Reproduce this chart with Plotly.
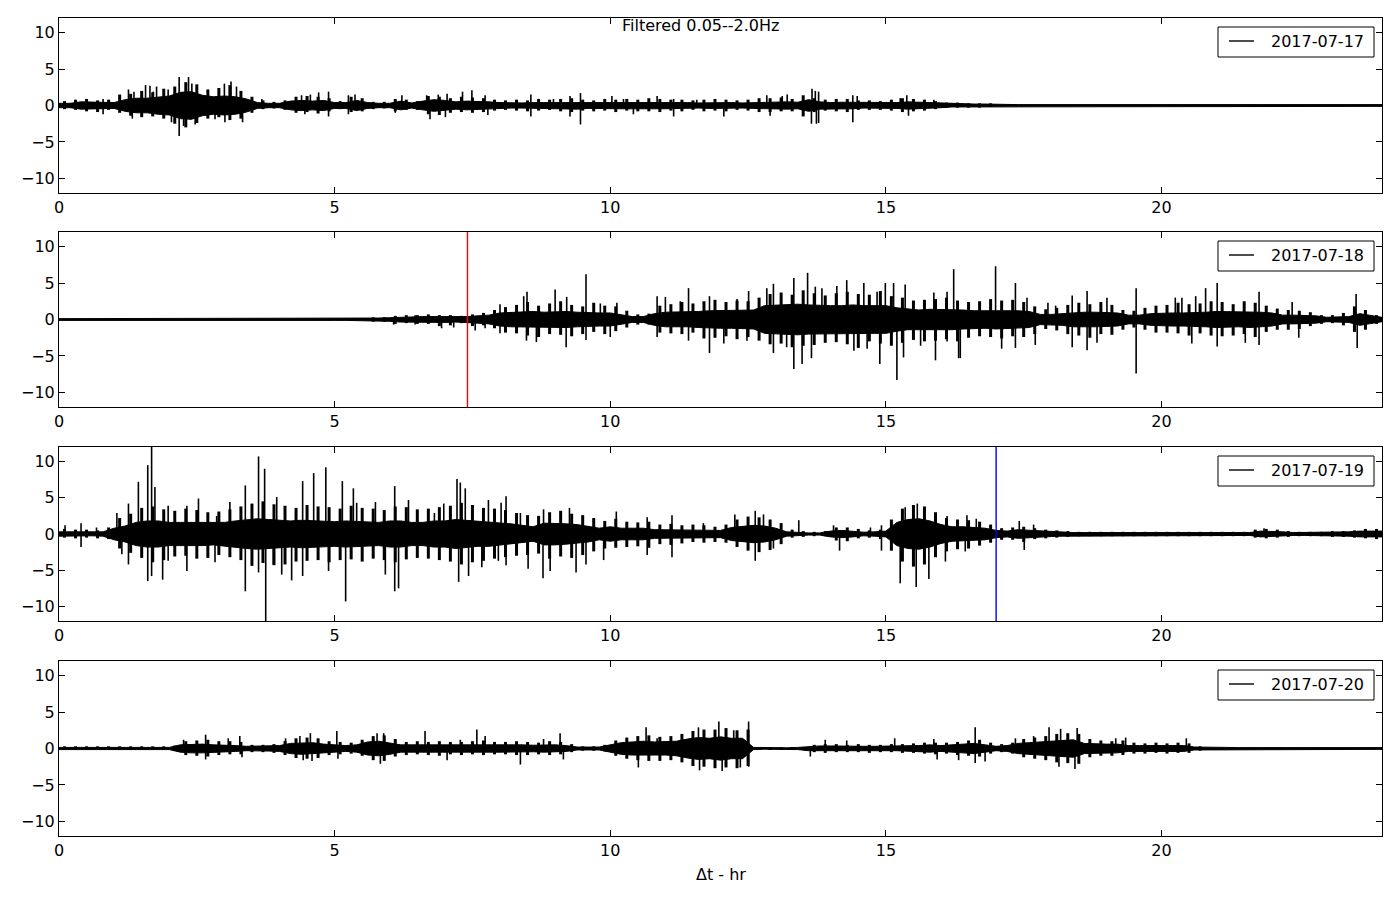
import plotly.graph_objects as go

# ---------------- data ----------------
dates = ["2017-07-17", "2017-07-18", "2017-07-19", "2017-07-20"]
x_ticks = [0, 5, 10, 15, 20]
y_ticks = [-10, -5, 0, 5, 10]
y_ticktext = ["\u221210", "\u22125", "0", "5", "10"]

# envelope (core amplitude of the dense trace) sampled every 0.2 hr, 0 .. 24 hr
t_grid = [round(i * 0.2, 1) for i in range(121)]
# bin centres (0.1, 0.3, ... 23.9 hr) for the per-bin peak excursions
t_bin = [round(i * 0.2 + 0.1, 1) for i in range(120)]

core1 = [0.3, 0.3, 0.5, 0.5, 0.4, 0.4, 0.8, 1.0, 1.0, 1.2,
         1.3, 1.8, 1.9, 1.4, 1.2, 1.3, 1.2, 0.9, 0.4, 0.3,
         0.3, 0.6, 0.7, 0.6, 0.7, 0.4, 0.4, 0.7, 0.4, 0.3,
         0.3, 0.6, 0.35, 0.6, 0.8, 0.7, 0.5, 0.6, 0.6, 0.5,
         0.4,
         0.35, 0.35, 0.4, 0.4, 0.4, 0.45, 0.5, 0.4, 0.4, 0.4,
         0.45, 0.45, 0.4, 0.45, 0.45, 0.4, 0.4, 0.35, 0.4, 0.4,
         0.4, 0.35, 0.4, 0.45, 0.5, 0.5, 0.45, 0.8, 0.5, 0.4,
         0.45, 0.45, 0.35, 0.35, 0.35, 0.4, 0.5, 0.45, 0.4, 0.3,
         0.2, 0.2, 0.2, 0.2, 0.15, 0.12, 0.12, 0.12, 0.12, 0.12,
         0.12, 0.12, 0.12, 0.12, 0.12, 0.12, 0.12, 0.12, 0.12, 0.12,
         0.12, 0.12, 0.12, 0.12, 0.12, 0.12, 0.12, 0.12, 0.12, 0.12,
         0.12, 0.12, 0.12, 0.12, 0.12, 0.12, 0.12, 0.12, 0.12, 0.12]

core2 = [0.12, 0.12, 0.12, 0.12, 0.12, 0.12, 0.12, 0.12, 0.12, 0.12,
         0.12, 0.12, 0.12, 0.12, 0.12, 0.12, 0.12, 0.12, 0.12, 0.12,
         0.12, 0.12, 0.12, 0.12, 0.12, 0.12, 0.12, 0.12, 0.2, 0.2,
         0.25, 0.35, 0.35, 0.4, 0.4, 0.4, 0.35, 0.4, 0.5, 0.6,
         0.9,
         1.0, 1.1, 1.1, 1.0, 1.1, 1.1, 1.0, 0.9, 0.9, 0.9,
         0.7, 0.4, 0.4, 0.8, 1.0, 1.0, 1.0, 1.1, 1.2, 1.2,
         1.2, 1.2, 1.3, 1.9, 2.0, 2.0, 2.1, 2.0, 1.9, 1.9,
         1.9, 2.0, 1.9, 1.9, 1.9, 1.6, 1.4, 1.3, 1.4, 1.4,
         1.4, 1.3, 1.2, 1.2, 1.3, 1.2, 1.2, 1.1, 0.7, 0.7,
         0.8, 1.0, 1.0, 1.0, 1.0, 0.9, 0.6, 0.6, 0.8, 0.9,
         0.9, 0.9, 0.9, 1.0, 1.1, 1.1, 1.0, 1.1, 1.0, 0.9,
         0.6, 0.6, 0.6, 0.5, 0.3, 0.3, 0.4, 0.8, 0.6, 0.3]

core3 = [0.3, 0.3, 0.3, 0.25, 0.3, 0.8, 1.1, 1.6, 1.8, 1.8,
         1.6, 1.6, 1.6, 1.6, 1.5, 1.6, 1.8, 2.0, 2.1, 2.0,
         1.9, 1.8, 1.9, 1.8, 1.8, 1.7, 1.8, 1.7, 1.7, 1.6,
         1.8, 1.8, 1.6, 1.6, 1.8, 1.8, 2.0, 1.9, 1.7, 1.7,
         1.6, 1.4, 1.2, 1.0, 1.5, 1.5, 1.4, 1.3, 1.1, 0.8,
         1.0, 0.8, 0.8, 0.8, 0.6, 0.6, 0.6, 0.6, 0.6, 0.5,
         0.5, 0.9, 1.1, 1.2, 1.1, 0.8, 0.3, 0.2, 0.15, 0.15,
         0.4, 0.5, 0.4, 0.25, 0.3, 0.4, 1.6, 2.0, 2.1, 1.8,
         1.3, 1.0, 1.0, 0.9, 0.8, 0.5, 0.4, 0.6, 0.5, 0.4,
         0.35, 0.3, 0.2, 0.2, 0.2, 0.2, 0.2, 0.2, 0.2, 0.2,
         0.2, 0.2, 0.2, 0.2, 0.2, 0.2, 0.2, 0.2, 0.2, 0.4,
         0.4, 0.3, 0.2, 0.2, 0.2, 0.25, 0.25, 0.3, 0.4, 0.45,
         0.4]

core4 = [0.15, 0.15, 0.15, 0.15, 0.15, 0.15, 0.15, 0.15, 0.15, 0.15,
         0.15, 0.5, 0.6, 0.6, 0.5, 0.5, 0.4, 0.3, 0.3, 0.35,
         0.4, 0.7, 0.8, 0.8, 0.6, 0.5, 0.4, 0.5, 0.9, 1.0,
         0.8, 0.5, 0.5, 0.5, 0.6, 0.5, 0.5, 0.5, 0.5, 0.5,
         0.5, 0.5, 0.5, 0.45, 0.5, 0.5, 0.4, 0.2, 0.2, 0.2,
         0.5, 0.8, 0.9, 1.0, 0.9, 0.9, 1.0, 1.3, 1.5, 1.4,
         1.6, 1.4, 1.4, 0.15, 0.1, 0.1, 0.1, 0.15, 0.3, 0.35,
         0.35, 0.3, 0.3, 0.3, 0.3, 0.3, 0.3, 0.35, 0.4, 0.5,
         0.4, 0.5, 0.6, 0.7, 0.5, 0.3, 0.4, 0.7, 0.8, 0.9,
         1.1, 1.1, 1.2, 0.7, 0.6, 0.6, 0.6, 0.4, 0.4, 0.4,
         0.4, 0.4, 0.4, 0.2, 0.15, 0.15, 0.15, 0.12, 0.12, 0.12,
         0.12, 0.12, 0.12, 0.12, 0.12, 0.12, 0.12, 0.12, 0.12, 0.12,
         0.12]

# typical peak excursion in each 0.2 hr bin (up = positive peak, dn = size of negative peak)
up1 = [0.6, 0.8, 0.9, 0.7, 0.8, 1.5, 1.6, 2.0, 1.8, 2.3,
       2.6, 3.2, 2.9, 2.2, 2.4, 2.8, 2.0, 1.2, 0.7, 0.5,
       0.7, 1.2, 1.3, 1.2, 1.0, 0.6, 1.2, 1.0, 0.5, 0.5,
       0.9, 0.8, 0.6, 1.3, 1.2, 1.0, 1.2, 1.1, 1.0, 0.8,
       0.7, 0.8, 0.7, 0.9, 0.8, 0.9, 1.0, 0.8, 0.7, 0.9,
       0.8, 0.9, 0.8, 1.0, 0.9, 0.8, 0.8, 0.7, 0.8, 0.9,
       0.8, 0.7, 0.8, 1.0, 1.0, 1.1, 0.9, 1.4, 1.0, 0.8,
       0.9, 0.9, 0.7, 0.7, 0.6, 0.8, 1.0, 0.9, 0.8, 0.6,
       0.4, 0.4, 0.3, 0.3, 0.3, 0, 0, 0, 0, 0,
       0, 0, 0, 0, 0, 0, 0, 0, 0, 0,
       0, 0, 0, 0, 0, 0, 0, 0, 0, 0,
       0, 0, 0, 0, 0, 0, 0, 0, 0, 0]
dn1 = [0.5, 0.6, 0.8, 0.9, 0.6, 1.0, 1.4, 1.6, 1.5, 1.8,
       2.5, 3.0, 2.4, 1.8, 1.6, 2.0, 1.8, 1.0, 0.5, 0.4,
       0.6, 1.0, 0.9, 1.1, 0.8, 0.5, 0.9, 0.8, 0.5, 0.4,
       0.8, 0.6, 0.6, 1.2, 1.3, 1.0, 0.9, 1.0, 0.9, 0.7,
       0.6, 0.7, 0.8, 0.7, 0.6, 0.8, 0.9, 0.7, 0.8, 0.7,
       0.9, 0.7, 0.8, 0.8, 0.9, 0.7, 0.8, 0.6, 0.8, 0.7,
       0.8, 0.6, 0.7, 0.9, 0.9, 0.8, 0.8, 1.5, 0.9, 0.7,
       0.8, 0.9, 0.6, 0.6, 0.6, 0.7, 0.9, 0.8, 0.7, 0.5,
       0.3, 0.3, 0.3, 0.3, 0.2, 0, 0, 0, 0, 0,
       0, 0, 0, 0, 0, 0, 0, 0, 0, 0,
       0, 0, 0, 0, 0, 0, 0, 0, 0, 0,
       0, 0, 0, 0, 0, 0, 0, 0, 0, 0]

up2 = [0, 0, 0, 0, 0, 0, 0, 0, 0, 0,
       0, 0, 0, 0, 0, 0, 0, 0, 0, 0,
       0, 0, 0, 0, 0, 0, 0, 0, 0.3, 0.3,
       0.5, 0.6, 0.6, 0.7, 0.6, 0.6, 0.5, 0.7, 0.9, 1.3,
       1.7, 2.0, 2.4, 1.9, 2.2, 2.5, 2.0, 1.8, 2.3, 1.9,
       1.8, 1.2, 0.7, 0.8, 1.9, 2.1, 2.4, 2.2, 2.5, 2.7,
       2.4, 2.6, 2.5, 3.0, 3.5, 3.7, 3.4, 4.0, 3.6, 3.3,
       3.6, 3.8, 3.5, 3.4, 3.9, 3.2, 3.0, 2.6, 2.7, 2.8,
       3.0, 2.6, 2.4, 2.5, 2.8, 2.6, 2.7, 2.4, 1.8, 1.4,
       1.6, 2.0, 2.3, 2.1, 2.4, 2.0, 1.3, 1.2, 1.6, 1.9,
       2.0, 2.3, 2.1, 2.2, 2.5, 2.4, 2.1, 2.5, 2.3, 1.9,
       1.5, 1.3, 1.2, 1.0, 0.6, 0.6, 0.9, 1.8, 1.3, 0.6]
dn2 = [0, 0, 0, 0, 0, 0, 0, 0, 0, 0,
       0, 0, 0, 0, 0, 0, 0, 0, 0, 0,
       0, 0, 0, 0, 0, 0, 0, 0, 0.3, 0.3,
       0.6, 0.5, 0.6, 0.6, 0.9, 0.8, 0.5, 0.9, 0.8, 1.2,
       1.8, 1.9, 2.2, 2.4, 2.0, 2.1, 2.3, 2.0, 1.7, 2.0,
       1.6, 1.1, 0.7, 0.7, 1.8, 1.9, 2.0, 1.8, 2.6, 2.5,
       2.3, 2.7, 2.4, 2.9, 3.4, 3.3, 3.8, 3.6, 3.5, 3.2,
       3.1, 3.4, 3.9, 3.0, 3.3, 3.6, 3.2, 2.8, 3.0, 2.9,
       2.7, 3.0, 2.5, 2.3, 2.4, 2.6, 2.3, 2.4, 2.0, 1.3,
       1.5, 2.0, 2.2, 2.5, 2.0, 2.1, 1.4, 1.1, 1.4, 1.8,
       1.8, 1.9, 2.2, 1.9, 2.2, 2.3, 2.2, 2.0, 2.4, 1.7,
       1.4, 1.4, 1.3, 0.9, 0.6, 0.5, 0.8, 1.7, 1.4, 0.6]

up3 = [0.7, 0.6, 0.6, 0.5, 0.9, 2.2, 2.8, 3.6, 3.8, 3.4,
       3.2, 3.5, 3.3, 3.0, 3.1, 3.4, 3.8, 4.2, 4.5, 4.1,
       3.9, 3.6, 4.0, 3.8, 3.7, 3.5, 3.9, 3.6, 3.5, 3.3,
       3.8, 3.7, 3.4, 3.5, 3.7, 3.9, 4.3, 4.0, 3.6, 3.5,
       3.3, 2.9, 2.6, 2.5, 3.0, 3.2, 2.8, 2.6, 2.2, 1.8,
       2.1, 1.7, 1.6, 1.7, 1.3, 1.4, 1.2, 1.3, 1.2, 1.0,
       1.3, 2.0, 2.4, 2.3, 2.0, 1.5, 0.6, 0.4, 0.3, 0.4,
       0.9, 0.9, 0.7, 0.5, 0.6, 2.0, 3.5, 4.0, 3.8, 3.0,
       2.2, 2.0, 1.9, 1.7, 1.3, 0.8, 0.9, 1.0, 0.8, 0.6,
       0.5, 0.4, 0.3, 0.3, 0.3, 0.3, 0.3, 0.3, 0.3, 0.3,
       0.3, 0.3, 0.3, 0.3, 0.3, 0.3, 0.3, 0.3, 0.6, 0.7,
       0.6, 0.4, 0.3, 0.3, 0.3, 0.4, 0.4, 0.5, 0.7, 0.7]
dn3 = [0.5, 0.6, 0.5, 0.6, 0.7, 2.0, 2.6, 3.3, 3.9, 3.6,
       3.1, 3.0, 3.4, 3.3, 2.9, 3.2, 3.6, 4.4, 4.0, 4.3,
       4.2, 3.8, 3.7, 3.6, 3.9, 3.6, 3.5, 3.8, 3.4, 3.6,
       3.9, 3.5, 3.3, 3.4, 3.6, 3.8, 4.2, 3.9, 3.7, 3.4,
       3.2, 3.0, 2.9, 2.7, 3.4, 3.1, 3.3, 2.9, 2.4, 2.0,
       1.9, 1.8, 1.7, 1.9, 1.4, 1.5, 1.3, 1.1, 1.2, 1.1,
       1.2, 1.8, 2.3, 2.5, 2.2, 1.4, 0.5, 0.4, 0.3, 0.3,
       0.9, 1.0, 0.6, 0.5, 0.7, 2.3, 3.8, 4.5, 4.2, 3.2,
       2.4, 2.1, 2.0, 1.6, 1.2, 0.8, 0.8, 1.1, 0.7, 0.6,
       0.5, 0.4, 0.3, 0.3, 0.3, 0.3, 0.3, 0.3, 0.3, 0.3,
       0.3, 0.3, 0.3, 0.3, 0.3, 0.3, 0.3, 0.3, 0.5, 0.6,
       0.5, 0.4, 0.3, 0.3, 0.3, 0.4, 0.4, 0.5, 0.6, 0.7]

up4 = [0.3, 0.3, 0.3, 0.3, 0.3, 0.3, 0.3, 0.3, 0.3, 0.3,
       0.4, 1.0, 1.1, 1.2, 1.0, 1.0, 0.9, 0.5, 0.5, 0.6,
       1.0, 1.4, 1.5, 1.4, 1.0, 0.9, 0.8, 1.2, 1.7, 1.8,
       1.3, 0.9, 1.0, 0.9, 1.0, 0.9, 0.9, 1.0, 1.1, 0.9,
       0.9, 1.0, 0.9, 0.8, 1.0, 0.9, 0.6, 0.3, 0.3, 0.5,
       1.1, 1.5, 1.7, 1.8, 1.6, 1.7, 2.0, 2.4, 2.6, 2.6,
       2.8, 2.5, 2.6, 0.2, 0.2, 0.2, 0.2, 0.2, 0.5, 0.6,
       0.6, 0.5, 0.6, 0.5, 0.5, 0.6, 0.6, 0.7, 0.8, 0.8,
       0.8, 0.9, 1.1, 1.2, 0.8, 0.6, 0.8, 1.3, 1.5, 1.7,
       2.0, 2.1, 2.0, 1.3, 1.1, 1.0, 1.1, 0.8, 0.7, 0.8,
       0.7, 0.8, 0.7, 0.3, 0, 0, 0, 0, 0, 0,
       0, 0, 0, 0, 0, 0, 0, 0, 0, 0]
dn4 = [0.2, 0.2, 0.2, 0.2, 0.2, 0.2, 0.2, 0.2, 0.2, 0.2,
       0.3, 0.9, 1.0, 1.1, 0.9, 0.8, 0.8, 0.5, 0.5, 0.6,
       0.9, 1.3, 1.4, 1.3, 0.9, 0.8, 0.7, 1.0, 1.6, 1.7,
       1.1, 0.9, 0.8, 0.9, 1.0, 0.8, 0.9, 0.8, 0.9, 0.8,
       0.8, 0.9, 0.9, 0.8, 0.9, 0.8, 0.5, 0.3, 0.3, 0.4,
       1.0, 1.4, 1.6, 1.7, 1.7, 1.6, 1.9, 2.4, 2.5, 2.7,
       2.6, 2.7, 2.4, 0.2, 0.2, 0.2, 0.2, 0.2, 0.5, 0.6,
       0.5, 0.5, 0.5, 0.6, 0.5, 0.5, 0.6, 0.6, 0.7, 0.8,
       0.7, 0.9, 1.0, 1.1, 0.7, 0.5, 0.7, 1.2, 1.4, 1.6,
       1.9, 2.0, 2.1, 1.2, 1.0, 1.0, 0.9, 0.7, 0.7, 0.6,
       0.7, 0.6, 0.6, 0.3, 0, 0, 0, 0, 0, 0,
       0, 0, 0, 0, 0, 0, 0, 0, 0, 0]

# individual spikes (time in hr, peak value)
spk1_t = [0.80, 0.80, 1.26, 1.33, 1.36, 1.57, 1.65, 1.71, 1.77, 1.98, 2.04, 2.18, 2.18,
          2.26, 2.35, 2.41, 2.47, 2.50, 2.71, 2.83, 3.00, 3.01, 3.12, 3.22, 3.33, 3.68,
          4.40, 4.46, 4.56, 4.71, 4.89, 4.89, 5.25, 5.25, 5.37, 6.10, 6.22, 6.67, 6.73,
          6.88, 7.01, 7.04, 7.32, 7.49, 7.73, 7.78,
          8.56, 8.56, 8.97, 9.27, 9.27, 9.46, 9.46, 10.03, 10.24, 10.42, 10.85, 11.15,
          11.15, 11.57, 12.06, 12.84, 12.90, 13.12, 13.21, 13.65, 13.66, 13.72, 13.74,
          13.78, 13.78, 14.40, 14.40, 14.48, 15.26, 15.38, 15.41, 15.87]
spk1_v = [0.9, -1.2, 2.2, -1.8, 1.9, 2.8, 2.7, 1.9, 2.6, 2.2, -2.3, 3.9, -4.2,
          -2.8, 3.9, 3.0, -2.6, 2.8, 1.4, -1.9, 3.0, -2.3, 3.3, 2.6, -2.3, 0.9,
          1.4, -1.2, 1.5, 1.8, 1.9, -1.5, 1.4, -1.2, 1.5, -1.0, 1.4, 1.4, -1.9,
          1.5, -1.6, 1.6, 1.9, 2.1, 1.4, -1.3,
          1.5, -1.5, 0.9, 1.3, -1.5, 1.7, -2.6, 1.3, 0.9, -1.2, 1.3, 0.9,
          -1.5, 0.8, -1.5, 1.4, -1.4, 1.3, 1.5, -2.5, 2.3, 2.0, -2.5,
          1.9, -2.4, 1.4, -2.3, 1.3, 1.0, 1.4, -1.4, 0.8]

spk2_t = [6.07, 6.46, 6.46, 6.94, 7.16, 7.55, 7.70, 7.73, 8.00, 8.00,
          8.43, 8.48, 8.49, 8.66, 9.00, 9.20, 9.21, 9.56, 9.56, 9.82, 10.00, 10.12,
          10.85, 10.85, 11.00, 11.27, 11.42, 11.42, 11.80, 11.80, 12.06, 12.30, 12.48,
          12.51, 12.84, 12.96, 12.96, 13.20, 13.33, 13.33, 13.48, 13.58, 13.65, 13.72,
          13.84, 14.11, 14.29, 14.42, 14.60, 14.66, 14.84, 14.89, 14.99, 15.14, 15.20,
          15.32, 15.35, 15.63, 15.87, 15.90, 16.11,
          16.11, 16.23, 16.32, 16.35, 16.99, 17.10, 17.35, 17.35, 17.56, 17.71, 17.94,
          18.08, 18.38, 18.38, 18.65, 18.65, 18.83, 19.01, 19.54, 19.54, 20.25, 20.37,
          20.55, 20.62, 20.80, 21.01, 21.01, 21.52, 21.77, 21.77, 22.37, 22.49, 23.53,
          23.55]
spk2_v = [-0.7, 0.6, -0.7, -1.2, -1.1, -1.5, 0.9, -1.2, 2.1, -1.9,
          3.2, -2.9, 3.8, -3.1, 4.1, -3.8, 3.1, 6.2, -2.8, 2.2, -2.4, 2.3,
          3.2, -2.4, 3.1, 2.5, 4.3, -2.9, 3.2, -4.6, -3.3, 2.8, -2.9,
          3.9, 4.3, 4.9, -4.6, -3.8, 5.7, -6.8, -6.1, 6.4, -5.3, 4.5,
          4.3, 4.6, 5.4, -4.3, 5.0, -4.0, 3.8, -6.1, 5.0, 5.0, -8.3,
          -5.2, 4.8, -3.6, 3.7, -5.6, 3.8,
          -3.0, 6.9, -5.3, -5.3, 7.3, -4.0, 5.0, -3.9, 3.0, -3.5, 2.3,
          1.9, 3.3, -3.8, 3.9, -4.2, -3.2, 3.0, 4.3, -7.4, 3.0, 3.0,
          -3.3, 3.2, 4.3, 5.0, -3.7, -3.2, 3.8, -3.5, 2.4, -2.5, 3.5,
          -3.9]

spk3_t = [0.11, 0.40, 0.40, 0.68, 1.05, 1.14, 1.26, 1.26, 1.44, 1.61, 1.61, 1.68, 1.68,
          1.74, 1.88, 1.98, 1.98, 2.32, 2.32, 2.53, 2.83, 2.86, 3.10, 3.38, 3.38, 3.62,
          3.62, 3.73, 3.75, 3.89, 3.95, 4.04, 4.22, 4.42, 4.42, 4.62, 4.84, 4.89, 5.14,
          5.20, 5.34, 5.40, 5.74, 5.92, 6.09, 6.09, 6.16, 6.34, 6.81, 6.98, 7.22, 7.25,
          7.28, 7.37, 7.43, 7.67, 7.79, 7.97, 8.02,
          8.11, 8.11, 8.37, 8.51, 8.78, 8.79, 8.91, 9.26, 9.38, 9.56, 9.88, 10.11,
          10.67, 10.67, 11.12, 11.12, 11.69, 12.26, 12.63, 12.63, 12.78, 12.96, 13.42,
          14.05, 14.16, 14.72, 14.92, 14.92, 15.26, 15.35, 15.55, 15.57, 15.78, 16.08,
          16.11, 16.44, 16.47, 16.64, 17.42, 17.51, 17.68, 21.86]
spk3_v = [1.2, 1.5, -1.8, 0.9, 2.9, -2.8, 4.2, -4.2, 7.2, 9.5, -6.5, 13.0, -5.8,
          6.5, -6.3, 3.9, -3.7, 3.9, -5.1, 4.9, -3.9, 2.5, 4.4, 6.7, -7.9, 10.7,
          -5.3, 9.0, -13.0, -4.2, 5.1, -5.6, -6.4, 7.3, -5.8, 8.4, 9.2, -5.1, 7.3,
          -9.3, 6.3, 4.3, 4.4, -5.6, 6.6, -7.9, -7.5, 4.7, 2.9, 4.2, 7.6, -6.6,
          7.1, 6.3, -5.8, -4.6, 4.7, -3.7, 4.3,
          5.2, -4.3, 2.9, -4.8, -6.1, 3.4, -5.1, 3.6, -5.3, -4.2, -3.6, 3.1,
          2.3, -2.9, 2.6, -3.2, 1.5, 2.7, 3.2, -3.7, 2.7, -2.0, 1.9,
          1.2, -2.3, 0.9, 1.2, -2.3, -6.8, 3.7, -7.3, 4.2, -6.2, -3.8,
          2.5, -2.4, 2.6, 2.1, 1.8, -2.2, 1.3, 0.8]

spk4_t = [2.26, 2.66, 2.66, 3.07, 3.28, 3.32, 4.11, 4.37, 4.43, 4.56, 4.59, 5.04, 5.06,
          5.77, 5.83, 5.89, 6.64, 7.04, 7.28, 7.58, 7.73,
          8.37, 8.79, 9.09, 9.15, 10.30, 10.51, 10.65, 10.85, 11.60, 11.62, 11.97, 12.03,
          12.24, 12.36, 12.51, 12.51, 13.63, 13.90, 14.29, 15.16, 15.87, 15.93,
          16.32, 16.62, 16.62, 16.80, 17.35, 17.68, 17.96, 18.14, 18.17, 18.43, 18.47,
          19.17, 19.35, 20.45]
spk4_v = [1.2, 1.9, -1.5, 1.4, 1.7, -1.2, 1.4, 1.7, -1.6, 2.1, -1.7, 2.4, -1.4,
          2.1, -2.1, 2.1, 2.4, -1.6, 1.2, 2.6, 1.7,
          -2.2, 1.3, 2.1, -1.5, 1.3, -2.6, 2.9, 1.4, 2.9, -3.0, 3.7, -3.1,
          2.5, -2.6, 3.7, -2.5, -1.1, 1.2, 1.1, 1.4, 1.3, -1.5,
          -1.6, 2.9, -2.0, -1.8, 1.4, 1.7, 2.9, -2.5, 2.7, -2.8, 2.8,
          1.4, 1.5, 1.4]

# picked arrivals (vertical markers): panel index, time in hr, colour
event_panel = [1, 2]
event_t = [7.41, 17.0]
event_color = ["#ff0000", "#0000ff"]

cores = [core1, core2, core3, core4]
ups = [up1, up2, up3, up4]
dns = [dn1, dn2, dn3, dn4]
spk_t = [spk1_t, spk2_t, spk3_t, spk4_t]
spk_v = [spk1_v, spk2_v, spk3_v, spk4_v]

# ---------------- layout geometry (pixels) ----------------
W, H = 1400, 900
X0, X1 = 59, 1382
panel_px = [(18, 193), (232, 407), (447, 621), (661, 836)]
FONT = "DejaVu Sans"


def px(x):
    return x / W


def py(y):
    return 1 - y / H


fig = go.Figure()


def ax_names(i):
    return ("x", "y") if i == 0 else (f"x{i + 1}", f"y{i + 1}")


for i in range(4):
    xa, ya = ax_names(i)
    core = cores[i]
    # dense band (envelope polygon)
    xs = t_grid + t_grid[::-1]
    ys = core + [-c for c in core[::-1]]
    fig.add_trace(go.Scatter(x=xs, y=ys, mode="lines", fill="toself",
                             fillcolor="black", line=dict(color="black", width=1),
                             xaxis=xa, yaxis=ya, hoverinfo="skip", showlegend=False))
    # per-bin peak excursions (thicker strokes for the dense look)
    gx, gy = [], []
    for t, u, d in zip(t_bin, ups[i], dns[i]):
        if u > 0 or d > 0:
            gx += [t, t, None]
            gy += [-d, u, None]
    fig.add_trace(go.Scatter(x=gx, y=gy, mode="lines",
                             line=dict(color="black", width=3),
                             xaxis=xa, yaxis=ya, hoverinfo="skip", showlegend=False))
    # isolated spikes
    sx, sy = [], []
    for t, v in zip(spk_t[i], spk_v[i]):
        sx += [t, t, None]
        sy += [0, v, None]
    fig.add_trace(go.Scatter(x=sx, y=sy, mode="lines",
                             line=dict(color="black", width=1.6),
                             xaxis=xa, yaxis=ya, hoverinfo="skip", showlegend=False))

for p, t, c in zip(event_panel, event_t, event_color):
    xa, ya = ax_names(p)
    fig.add_trace(go.Scatter(x=[t, t], y=[-12, 12], mode="lines",
                             line=dict(color=c, width=1.4),
                             xaxis=xa, yaxis=ya, hoverinfo="skip", showlegend=False))

layout = {}
tickfont = dict(family=FONT, size=16, color="black")
for i, (top, bot) in enumerate(panel_px):
    n = "" if i == 0 else str(i + 1)
    layout["xaxis" + n] = dict(
        domain=[px(X0), px(X1)], range=[0, 24], anchor="y" + n, automargin=False,
        tickmode="array", tickvals=x_ticks, ticktext=[str(v) for v in x_ticks],
        ticks="inside", ticklen=6, tickwidth=1, tickcolor="black",
        showline=True, linecolor="black", linewidth=1, mirror="ticks",
        showgrid=False, zeroline=False, tickfont=tickfont)
    layout["yaxis" + n] = dict(
        domain=[py(bot), py(top)], range=[-12, 12], anchor="x" + n, automargin=False,
        tickmode="array", tickvals=y_ticks, ticktext=y_ticktext,
        ticks="inside", ticklen=6, tickwidth=1, tickcolor="black",
        showline=True, linecolor="black", linewidth=1, mirror="ticks",
        showgrid=False, zeroline=False, tickfont=tickfont)

shapes = []
annotations = []
for i, (top, bot) in enumerate(panel_px):
    d = top - 18
    shapes.append(dict(type="rect", xref="paper", yref="paper",
                       x0=px(1218), x1=px(1374), y0=py(57 + d), y1=py(27 + d),
                       line=dict(color="black", width=1), fillcolor="white", layer="above"))
    shapes.append(dict(type="line", xref="paper", yref="paper",
                       x0=px(1229), x1=px(1254), y0=py(41 + d), y1=py(41 + d),
                       line=dict(color="black", width=1.4), layer="above"))
    annotations.append(dict(text=dates[i], xref="paper", yref="paper",
                            x=px(1269), y=py(41.5 + d), xanchor="left", yanchor="middle",
                            showarrow=False, font=dict(family=FONT, size=16, color="black")))

annotations.append(dict(text="Filtered 0.05--2.0Hz", xref="paper", yref="paper",
                        x=0.5, y=py(26), xanchor="center", yanchor="middle",
                        showarrow=False, font=dict(family=FONT, size=16, color="black")))
annotations.append(dict(text="\u0394t - hr", xref="paper", yref="paper",
                        x=px(720.5), y=py(874), xanchor="center", yanchor="middle",
                        showarrow=False, font=dict(family=FONT, size=16, color="black")))

fig.update_layout(width=W, height=H, margin=dict(l=0, r=0, t=0, b=0, autoexpand=False),
                  paper_bgcolor="white", plot_bgcolor="white", showlegend=False,
                  shapes=shapes, annotations=annotations, **layout)

fig.write_html("out.html", config={"displayModeBar": False},
               post_script="document.body.style.margin='0';document.body.style.overflow='hidden';")
